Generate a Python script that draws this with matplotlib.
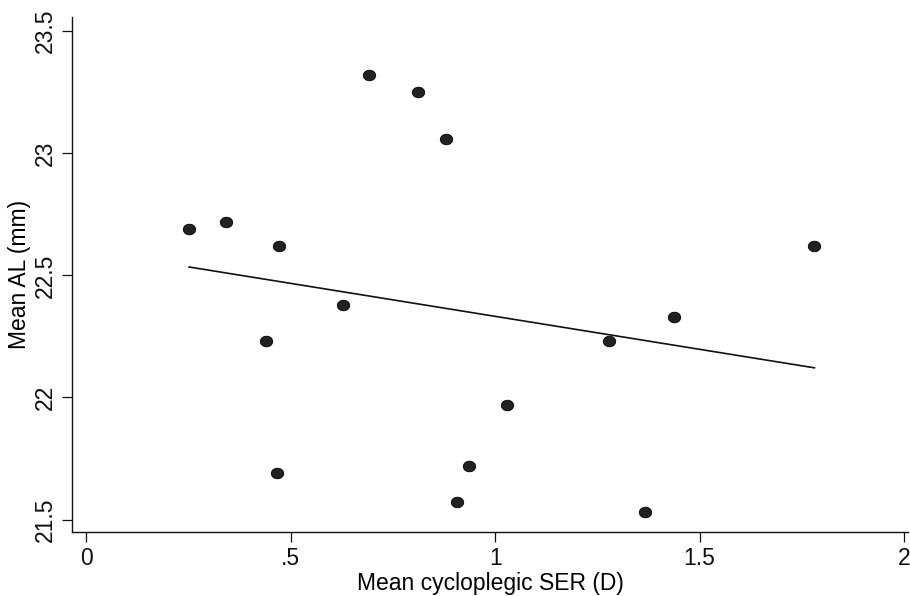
import numpy as np
import matplotlib
matplotlib.use("Agg")
import matplotlib.pyplot as plt
from matplotlib.path import Path
from matplotlib.transforms import Affine2D

plt.rcParams['font.family'] = ['Liberation Sans', 'DejaVu Sans']

# Mean cycloplegic spherical equivalent refraction (D) and mean axial length (mm)
ser = [0.251, 0.342, 0.471, 0.439, 0.466, 0.628, 0.691, 0.811, 0.879,
       0.907, 0.937, 1.028, 1.278, 1.367, 1.438, 1.781]
al = [22.69, 22.72, 22.62, 22.23, 21.69, 22.38, 23.32, 23.25, 23.06,
      21.57, 21.72, 21.97, 22.23, 21.53, 22.33, 22.62]

x_ticks = [0, 0.5, 1, 1.5, 2]
x_ticklabels = ["0", ".5", "1", "1.5", "2"]
y_ticks = [21.5, 22, 22.5, 23, 23.5]
y_ticklabels = ["21.5", "22", "22.5", "23", "23.5"]

x = np.array(ser)
y = np.array(al)
slope, intercept = np.polyfit(x, y, 1)
xfit = np.array([x.min(), x.max()])
yfit = intercept + slope * xfit

# slightly flattened dot marker
circ = Path.unit_circle()
dot = Path(Affine2D().scale(1.0, 0.85).transform(circ.vertices), circ.codes)

fig = plt.figure(figsize=(9.10, 5.96), dpi=100)
ax = fig.add_axes([0.0791, 0.1074, 0.9187, 0.8641])

ax.plot(xfit, yfit, color="#111111", lw=1.2, zorder=2)
ax.scatter(x, y, s=80, marker=dot, color="#222222", edgecolors="#000000",
           linewidths=0.6, zorder=3)

ax.set_xlim(-0.0355, 2.01)
ax.set_ylim(21.449, 23.558)
ax.set_xticks(x_ticks)
ax.set_xticklabels(x_ticklabels)
ax.set_yticks(y_ticks)
ax.set_yticklabels(y_ticklabels, rotation=90, va="center")

for side in ("top", "right"):
    ax.spines[side].set_visible(False)
for side in ("left", "bottom"):
    ax.spines[side].set_linewidth(1.0)
    ax.spines[side].set_color("#111111")

ax.tick_params(axis="both", direction="out", length=7, width=0.9,
               labelsize=16.5, colors="#111111", pad=4)

ax.set_xlabel("Mean cycloplegic SER (D)", fontsize=16.5, labelpad=1)
ax.set_ylabel("Mean AL (mm)", fontsize=16.5, labelpad=2)

fig.savefig("out.png", dpi=100)
